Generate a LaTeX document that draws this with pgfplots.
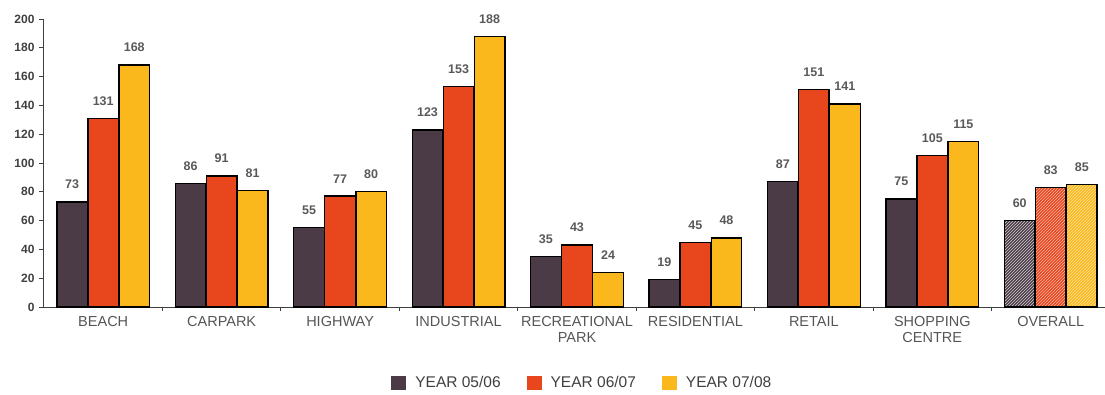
\documentclass[border=0pt]{standalone}
\usepackage{pgfplots}
\pgfplotsset{compat=1.18}
\usepackage{fontspec}
\setmainfont{Liberation Sans}
\usetikzlibrary{patterns}
\definecolor{cdark}{HTML}{4A3B47}
\definecolor{corange}{HTML}{E8471E}
\definecolor{cyellow}{HTML}{FAB81C}
\definecolor{txt}{HTML}{555555}
\begin{document}
\begin{tikzpicture}
\path[use as bounding box] (-44pt,-87pt) rectangle (1061pt,307pt);
\begin{axis}[
  at={(0,0)}, anchor=south west,
  scale only axis, width=1066pt, height=288pt,
  xmin=-0.5, xmax=8.5, ymin=0, ymax=200,
  axis lines=left, axis line style={-, draw=black!75, line width=1pt},
  ytick={0,20,...,200},
  xtick={0,...,8},
  xticklabels={BEACH,CARPARK,HIGHWAY,INDUSTRIAL,{RECREATIONAL\\PARK},RESIDENTIAL,RETAIL,{SHOPPING\\CENTRE},OVERALL},
  minor xtick={0.5,1.5,...,7.5},
  major x tick style={draw=none},
  tick align=outside,
  major tick length=5pt, minor tick length=4pt,
  every tick/.style={draw=black!75, line width=0.8pt},
  yticklabel style={font=\fontsize{12}{14}\selectfont\bfseries, text=black!75, xshift=-1pt},
  xticklabel style={font=\fontsize{14.5}{16}\selectfont, text=txt, align=center, yshift=-1pt},
  /pgf/number format/assume math mode=true,
  ybar, bar width=0.258,
  every axis plot/.append style={draw=black, line width=1.3pt},
  nodes near coords,
  nodes near coords style={font=\fontsize{12.5}{14}\selectfont\bfseries, text=black!65, yshift=9pt},
  legend style={at={(0.505,-0.264)}, anchor=center, draw=none, legend columns=3,
    font=\fontsize{15.5}{17}\selectfont, text=black!75,
    /tikz/every odd column/.append style={column sep=7pt},
    /tikz/every even column/.append style={column sep=24pt}},
  legend image code/.code={\fill[#1, draw=none] (0pt,-7pt) rectangle (15pt,7pt);},
]
\addplot[fill=cdark, bar shift=-0.262] coordinates {(0,73) (1,86) (2,55) (3,123) (4,35) (5,19) (6,87) (7,75)};
\addplot[fill=corange, bar shift=0] coordinates {(0,131) (1,91) (2,77) (3,153) (4,43) (5,45) (6,151) (7,105)};
\addplot[fill=cyellow, bar shift=0.262] coordinates {(0,168) (1,81) (2,80) (3,188) (4,24) (5,48) (6,141) (7,115)};
\addplot[fill=cdark, bar shift=-0.262, forget plot, postaction={pattern=north east lines, pattern color=white!75!cdark}] coordinates {(8,60)};
\addplot[fill=corange, bar shift=0, forget plot, postaction={pattern=north east lines, pattern color=white!60!corange}] coordinates {(8,83)};
\addplot[fill=cyellow, bar shift=0.262, forget plot, postaction={pattern=north east lines, pattern color=white!60!cyellow}] coordinates {(8,85)};
\legend{YEAR 05/06,YEAR 06/07,YEAR 07/08}
\end{axis}
\end{tikzpicture}
\end{document}
